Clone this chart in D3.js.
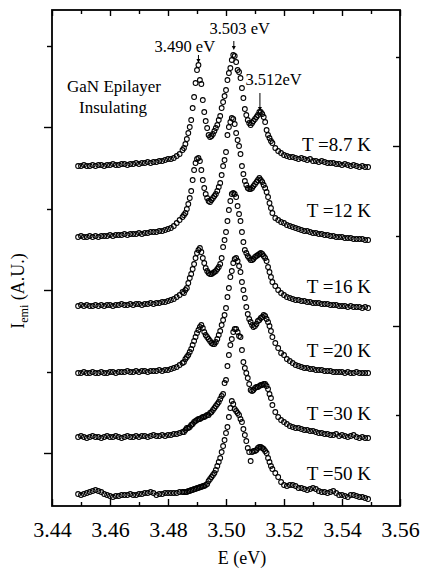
<!DOCTYPE html>
<html>
<head>
<meta charset="utf-8">
<script src="https://d3js.org/d3.v7.min.js"></script>
<style>
  body { margin: 0; background: #fff; }
  svg text { font-family: "Liberation Serif", "Times New Roman", serif; fill: #000; }
  .axis path { display: none; }
  .axis line { stroke: #000; stroke-width: 1.4; }
</style>
</head>
<body>
<script>
// sampling grid (eV): 1 meV steps on the wings, 0.5 meV through the peaks
var eLow  = d3.range(3449, 3486).map(function(d) { return d / 1000; });
var ePeak = d3.range(34855, 35161, 5).map(function(d) { return d / 10000; });
var eHigh = d3.range(3517, 3550).map(function(d) { return d / 1000; });
var energy = eLow.concat(ePeak, eHigh);

var temps = ["T =8.7 K", "T =12 K", "T =16 K", "T =20 K", "T =30 K", "T =50 K"];
var offsets = [340, 269, 200, 133, 69, 12];   // vertical shift of each trace (A.U.)

// intensity above the shifted baseline (A.U.), one value per energy point
var i8_7 = [0,0,1,0,0,1,0,1,1,0, 1,1,2,1,1,2,2,1,2,2, 3,2,3,3,4,3,4,4,5,5, 6,7,7,8,10,12,16,
  18,22,27,33,39,46,58,69,83,96, 101,86,82,66,54,45,38,31,29,30, 32,35,38,41,46,50,58,64,70,76,
  86,93,98,106,111,110,104,96,94,88, 78,68,57,51,46,43,41,43,45,47, 49,51,54,54,52,49,44,36,31,28, 25,23,
  18,15,13,11,10,9,9,8,7,8, 7,6,7,5,5,4,5,4,3,3, 3,2,2,1,2,1,0,1,0,-1, 0,-1,-1];
var i12 = [0,1,0,0,1,0,1,0,1,1, 1,2,1,2,2,2,3,2,3,3, 3,4,3,4,4,5,5,5,6,6, 7,8,9,11,14,17,20,
  22,24,28,33,39,46,57,67,74,78, 79,76,67,57,49,43,39,36,35,37, 39,41,43,46,50,54,62,71,77,85,
  102,110,115,119,118,113,104,97,91,83, 71,63,56,52,49,48,48,49,51,53, 55,57,59,57,55,52,49,45,40,34, 29,24,
  19,17,15,14,12,11,10,9,8,7, 6,6,5,4,4,3,3,2,2,1, 1,0,0,0,-1,-1,-1,-2,-2,-2, -2,-3,-3];
var i16 = [0,1,0,1,0,0,1,0,1,0, 1,1,0,1,1,2,1,1,2,1, 2,2,1,2,2,3,2,3,3,4, 4,5,6,7,9,11,14,
  13,16,18,23,28,32,37,42,48,53, 56,58,54,48,43,38,35,33,32,32, 33,34,35,37,39,42,48,59,66,74,
  85,96,105,112,113,112,109,100,92,85, 74,64,56,53,50,48,46,46,47,49, 50,51,52,53,52,50,48,45,39,34, 29,24,
  20,16,13,11,9,8,7,6,6,5, 5,4,4,3,3,3,2,2,2,1, 1,1,0,0,0,-1,0,-1,-1,-1, -2,-1,-2];
var i20 = [0,0,1,0,0,1,0,0,1,0, 0,1,1,0,1,1,1,2,1,1, 2,1,2,2,1,2,2,2,3,2, 3,3,4,5,6,8,10,
  11,14,16,18,21,24,28,32,36,40, 43,46,48,45,41,38,36,34,32,30, 29,29,31,34,38,42,48,53,58,65,
  76,85,96,102,110,114,115,112,107,101, 91,83,75,66,59,54,51,48,46,47, 49,52,53,55,56,58,57,54,51,47, 42,36,
  30,25,20,18,14,12,10,8,7,6, 5,5,4,4,3,3,3,2,2,2, 1,1,1,1,0,1,0,0,1,0, 0,0,0];
var i30 = [0,1,0,-1,0,1,0,0,-1,0, 1,0,0,1,0,-1,0,1,0,0, 1,0,1,1,0,1,2,1,1,2, 1,2,2,3,3,4,5,
  5,7,9,9,10,12,13,15,16,17, 18,18,19,20,20,21,22,22,24,25, 27,29,31,33,35,38,41,43,54,57,
  71,82,92,98,105,108,108,105,101,100, 87,75,69,64,59,53,47,46,47,49, 50,50,51,52,52,53,53,51,48,43, 39,32,
  25,20,17,15,13,11,10,9,9,8, 7,7,6,6,5,4,4,3,3,2, 2,3,1,2,1,0,1,2,0,-1, 0,-1,-1];
var i50 = [0,-1,0,1,2,3,4,3,2,0, -1,-2,-3,-2,-2,-1,-1,-1,0,-1, -1,0,0,1,1,2,1,-1,0,0, 1,1,1,1,1,2,2,
  2,2,2,3,3,4,4,5,5,6, 6,7,7,8,8,9,10,13,15,17, 19,21,24,28,32,36,42,48,54,61,
  67,77,86,93,90,85,83,81,79,75, 72,65,59,53,46,42,33,42,43,43, 44,46,47,47,46,45,43,41,36,32, 28,25,
  21,17,12,9,8,9,9,8,6,6, 5,4,5,6,5,3,2,2,1,2, 3,1,-1,-1,-2,-3,-1,-1,-2,-3, -3,-4,-5];
var spectra = [i8_7, i12, i16, i20, i30, i50];

var xTicks = [3.44, 3.45, 3.46, 3.47, 3.48, 3.49, 3.50, 3.51, 3.52, 3.53, 3.54, 3.55, 3.56];
var leftTicks = [460, 379, 297, 216, 134, 53];
var rightTicks = [449, 360, 270, 180, 91];

// peak markers: label, arrow energy, arrow top/bottom (A.U.)
var peaks = [
  { text: "3.490 eV", e: 3.4905, y0: 451, y1: 443, tx: 3.4858, ty: 454, anchor: "middle" },
  { text: "3.503 eV", e: 3.5027, y0: 465, y1: 456, tx: 3.5047, ty: 472, anchor: "middle" },
  { text: "3.512eV",  e: 3.5117, y0: 413, y1: 395, tx: 3.5067, ty: 421, anchor: "start" }
];
var labelLift = [15, 20, 13, 16, 17, 14];   // temperature label height above its trace (A.U.)

var width = 423, height = 568;
var plotL = 52, plotR = 400, plotT = 10, plotB = 506;

var xScale = d3.scaleLinear().domain([3.44, 3.56]).range([plotL, plotR]);
var yScale = d3.scaleLinear().domain([0, 496]).range([plotB, plotT]);

var svg = d3.select("body").append("svg")
    .attr("width", width)
    .attr("height", height);

svg.append("rect").attr("width", width).attr("height", height).attr("fill", "#fff");

function isMajor(d) { return Math.round(d * 100) % 2 === 0; }

// bottom axis with labels every 0.02
svg.append("g")
    .attr("class", "axis")
    .attr("transform", "translate(0," + plotB + ")")
    .call(d3.axisBottom(xScale)
        .tickValues(xTicks)
        .tickSizeInner(-5)
        .tickSizeOuter(0)
        .tickPadding(15)
        .tickFormat(function(d) { return isMajor(d) ? d3.format(".2f")(d) : ""; }))
    .call(function(g) {
        g.selectAll("text").attr("font-size", 22).attr("font-family", "Liberation Serif, serif").attr("fill", "#000");
        g.selectAll("line").attr("y2", function(d) { return isMajor(d) ? -7 : -4; });
    });

// top axis, ticks only
svg.append("g")
    .attr("class", "axis")
    .attr("transform", "translate(0," + plotT + ")")
    .call(d3.axisTop(xScale).tickValues(xTicks).tickSizeOuter(0).tickFormat(""))
    .call(function(g) {
        g.selectAll("line").attr("y2", function(d) { return isMajor(d) ? 6 : 4; });
    });

// left axis, outward ticks
svg.append("g")
    .attr("class", "axis")
    .attr("transform", "translate(" + plotL + ",0)")
    .call(d3.axisLeft(yScale).tickValues(leftTicks).tickSizeOuter(0).tickFormat(""))
    .call(function(g) {
        g.selectAll("line").attr("x2", function(d, i) { return i % 2 === 1 ? -8 : -5; });
    });

// right axis, inward ticks
svg.append("g")
    .attr("class", "axis")
    .attr("transform", "translate(" + plotR + ",0)")
    .call(d3.axisRight(yScale).tickValues(rightTicks).tickSizeOuter(0).tickFormat(""))
    .call(function(g) {
        g.selectAll("line").attr("x2", function(d, i) { return i % 2 === 1 ? -7 : -4; });
    });

// frame
svg.append("rect")
    .attr("x", plotL).attr("y", plotT)
    .attr("width", plotR - plotL).attr("height", plotB - plotT)
    .attr("fill", "none").attr("stroke", "#000").attr("stroke-width", 1.8);

// spectra as open circles
spectra.forEach(function(vals, s) {
    var pts = energy.map(function(e, i) { return [e, offsets[s] + vals[i]]; });
    svg.append("g")
        .selectAll("circle")
        .data(pts)
        .enter()
        .append("circle")
        .attr("cx", function(d) { return xScale(d[0]); })
        .attr("cy", function(d) { return yScale(d[1]); })
        .attr("r", 2.4)
        .attr("fill", "none")
        .attr("stroke", "#000")
        .attr("stroke-width", 1.05);

    svg.append("text")
        .attr("x", 371)
        .attr("y", yScale(offsets[s] + labelLift[s]))
        .attr("text-anchor", "end")
        .attr("font-size", 19)
        .text(temps[s]);
});

// peak arrows and labels
peaks.forEach(function(p) {
    var x = xScale(p.e);
    svg.append("line")
        .attr("x1", x).attr("x2", x)
        .attr("y1", yScale(p.y0)).attr("y2", yScale(p.y1) - 3)
        .attr("stroke", "#000").attr("stroke-width", 1);
    svg.append("path")
        .attr("d", "M" + (x - 2) + "," + (yScale(p.y1) - 4) + "L" + (x + 2) + "," + (yScale(p.y1) - 4) + "L" + x + "," + yScale(p.y1) + "Z")
        .attr("fill", "#000");
    svg.append("text")
        .attr("x", xScale(p.tx))
        .attr("y", yScale(p.ty))
        .attr("text-anchor", p.anchor)
        .attr("font-size", 16.5)
        .text(p.text);
});

// sample label
svg.append("text").attr("x", 114).attr("y", 92).attr("text-anchor", "middle").attr("font-size", 17).text("GaN Epilayer");
svg.append("text").attr("x", 113).attr("y", 113).attr("text-anchor", "middle").attr("font-size", 17).text("Insulating");

// axis titles
svg.append("text")
    .attr("x", 242).attr("y", 564)
    .attr("text-anchor", "middle")
    .attr("font-size", 18)
    .text("E (eV)");

var ylab = svg.append("text")
    .attr("text-anchor", "middle")
    .attr("transform", "translate(24,291)rotate(-90)")
    .attr("font-size", 18);
ylab.append("tspan").text("I");
ylab.append("tspan").attr("font-size", 12).attr("dy", 4).text("emi");
ylab.append("tspan").attr("dy", -4).text(" (A.U.)");
</script>
</body>
</html>
